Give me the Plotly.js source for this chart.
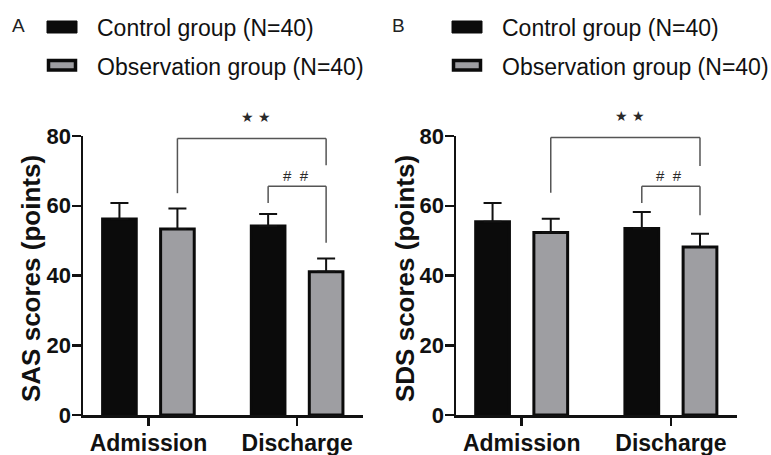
<!DOCTYPE html>
<html><head><meta charset="utf-8">
<script src="https://cdn.plot.ly/plotly-3.0.1.min.js"></script>
<style>html,body{margin:0;padding:0;background:#fff}#chart{width:771px;height:455px}</style>
</head><body><div id="chart"></div>
<script>
// ---- data ----
const timepoints = ['Admission', 'Discharge'];
const controlName = 'Control group (N=40)';
const obsName = 'Observation group (N=40)';
const sasControlMean = [56.2, 54.2];
const sasControlSD = [4.6, 3.4];
const sasObsMean = [53.3, 41.1];
const sasObsSD = [5.9, 3.8];
const sdsControlMean = [55.4, 53.5];
const sdsControlSD = [5.4, 4.7];
const sdsObsMean = [52.3, 48.2];
const sdsObsSD = [4.0, 3.8];
const yTicks = [0, 20, 40, 60, 80];
const panelLabels = ['A', 'B'];
const yTitles = ['SAS scores (points)', 'SDS scores (points)'];
// significance brackets: [leftY, topY, rightY]
const sasStarBracket = [63.6, 79.3, 71.6];
const sasHashBracket = [60.8, 65.6, 49.4];
const sdsStarBracket = [63.7, 79.6, 71.4];
const sdsHashBracket = [60.8, 65.6, 57.3];
const starLabel = '\u2605\u00a0\u2605';
const hashLabel = '#\u00a0\u00a0#';

// ---- style ----
const W = 771, H = 455;
const FONT = 'Liberation Sans, Arial, Helvetica, sans-serif';
const BLACK = '#0b0b0b';
const GRAY = '#9e9ea2';
const INK = '#111111';
const BRACKET = '#555555';
const BARGAP = 0.22;
const slot = (1 - BARGAP) / 2;
const off = slot / 2;
const px = x => x / W;
const py = y => 1 - y / H;

function barTrace(name, y, sd, color, xa, ya) {
  return {
    type: 'bar', name: name, x: timepoints, y: y,
    xaxis: xa, yaxis: ya, showlegend: false,
    marker: {color: color, line: {color: BLACK, width: 3}},
    error_y: {type: 'data', symmetric: false, array: sd, arrayminus: sd.map(() => 0),
              color: INK, thickness: 2, width: 9}
  };
}

const data = [
  barTrace(controlName, sasControlMean, sasControlSD, BLACK, 'x', 'y'),
  barTrace(obsName, sasObsMean, sasObsSD, GRAY, 'x', 'y'),
  barTrace(controlName, sdsControlMean, sdsControlSD, BLACK, 'x2', 'y2'),
  barTrace(obsName, sdsObsMean, sdsObsSD, GRAY, 'x2', 'y2')
];

function bracketShapes(xa, ya, xl, xr, b) {
  const ln = {color: BRACKET, width: 1.5};
  return [
    {type: 'line', xref: xa, yref: ya, x0: xl, x1: xl, y0: b[0], y1: b[1], line: ln},
    {type: 'line', xref: xa, yref: ya, x0: xl, x1: xr, y0: b[1], y1: b[1], line: ln},
    {type: 'line', xref: xa, yref: ya, x0: xr, x1: xr, y0: b[1], y1: b[2], line: ln}
  ];
}

function legendShapes(x0) {
  return [
    {type: 'rect', xref: 'paper', yref: 'paper', x0: px(x0), x1: px(x0 + 30), y0: py(33), y1: py(21),
     fillcolor: BLACK, line: {color: BLACK, width: 1}},
    {type: 'rect', xref: 'paper', yref: 'paper', x0: px(x0 + 1.5), x1: px(x0 + 28.5), y0: py(70), y1: py(60.5),
     fillcolor: GRAY, line: {color: BLACK, width: 3.5}}
  ];
}

const shapes = [].concat(
  bracketShapes('x', 'y', 0 + off, 1 + off, sasStarBracket),
  bracketShapes('x', 'y', 1 - off, 1 + off, sasHashBracket),
  bracketShapes('x2', 'y2', 0 + off, 1 + off, sdsStarBracket),
  bracketShapes('x2', 'y2', 1 - off, 1 + off, sdsHashBracket),
  legendShapes(47), legendShapes(452)
);

function legendText(x0) {
  return [
    {text: controlName, xref: 'paper', yref: 'paper', x: px(x0), y: py(28), xanchor: 'left', yanchor: 'middle',
     showarrow: false, font: {family: FONT, size: 23, color: INK}},
    {text: obsName, xref: 'paper', yref: 'paper', x: px(x0), y: py(66.5), xanchor: 'left', yanchor: 'middle',
     showarrow: false, font: {family: FONT, size: 23, color: INK}}
  ];
}
function sigText(xa, ya, x, y, t, shift, size, fam) {
  return {text: t, xref: xa, yref: ya, x: x, y: y, yshift: shift, showarrow: false,
          xanchor: 'center', yanchor: 'middle',
          font: {family: fam, size: size, color: '#2a2a2a'}};
}
function panelText(t, x) {
  return {text: t, xref: 'paper', yref: 'paper', x: px(x), y: py(25), xanchor: 'center', yanchor: 'middle',
          showarrow: false, font: {family: FONT, size: 19, color: '#222'}};
}
function yTitleText(t, x) {
  return {text: t, xref: 'paper', yref: 'paper', x: px(x), y: py(279), xanchor: 'center', yanchor: 'middle',
          textangle: -90, showarrow: false,
          font: {family: FONT, size: 26, color: INK, weight: 'bold'}};
}

const STARFONT = 'DejaVu Sans, ' + FONT;
const annotations = [].concat(
  legendText(95), legendText(500),
  [
    panelText(panelLabels[0], 18),
    panelText(panelLabels[1], 398),
    yTitleText(yTitles[0], 31),
    yTitleText(yTitles[1], 405),
    sigText('x', 'y', 0.725, sasStarBracket[1], starLabel, 21, 14, STARFONT),
    sigText('x', 'y', 0.99, sasHashBracket[1], hashLabel, 11, 15, FONT),
    sigText('x2', 'y2', 0.725, sdsStarBracket[1], starLabel, 21, 14, STARFONT),
    sigText('x2', 'y2', 0.99, sdsHashBracket[1], hashLabel, 11, 15, FONT)
  ]
);

function xAxis(d0, d1) {
  return {domain: [px(d0), px(d1)], type: 'category', range: [-0.44, 1.443],
          showline: true, linewidth: 2.5, linecolor: INK, ticks: 'outside', ticklen: 8,
          tickwidth: 2.5, tickcolor: INK, showgrid: false, zeroline: false, fixedrange: true,
          ticklabelstandoff: -2,
          tickfont: {family: FONT, size: 23, color: INK, weight: 'bold'}};
}
function yAxis(anchor) {
  return {domain: [1 - 415 / H, 1 - 136 / H], range: [0, 80], tickvals: yTicks, anchor: anchor,
          showline: true, linewidth: 2.5, linecolor: INK, ticks: 'outside', ticklen: 9,
          tickwidth: 2.5, tickcolor: INK, showgrid: false, zeroline: false, fixedrange: true,
          ticklabelstandoff: -4,
          tickfont: {family: FONT, size: 22, color: INK, weight: 'bold'}};
}

const layout = {
  width: W, height: H, margin: {l: 0, r: 0, t: 0, b: 0},
  paper_bgcolor: '#fff', plot_bgcolor: '#fff',
  barmode: 'group', bargap: BARGAP, bargroupgap: 0.42,
  showlegend: false,
  xaxis: Object.assign(xAxis(83, 363), {anchor: 'y'}),
  yaxis: yAxis('x'),
  xaxis2: Object.assign(xAxis(456, 737), {anchor: 'y2'}),
  yaxis2: yAxis('x2'),
  shapes: shapes,
  annotations: annotations
};

Plotly.newPlot('chart', data, layout, {displayModeBar: false, staticPlot: true});
</script>
</body></html>
